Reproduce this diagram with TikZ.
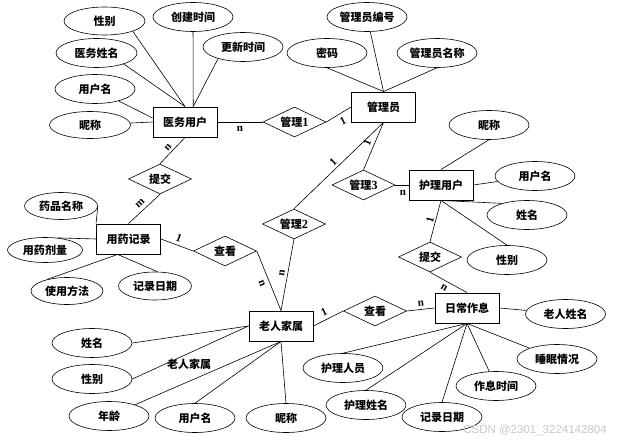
\documentclass[tikz,border=0pt]{standalone}
\usepackage{fontspec}
\setmainfont{Liberation Serif}
\newfontfamily\cjk{Noto Sans CJK SC}
\newfontfamily\wmfont{Liberation Sans}
\usetikzlibrary{shapes.geometric}

\newcommand{\relnum}[1]{{\rmfamily\fontsize{12.5}{13}\selectfont #1}}

\tikzset{
  zhfont/.style={font=\cjk\bfseries\fontsize{11}{13}\selectfont},
  entity/.style={draw, zhfont, line width=0.9pt, minimum width=64pt, minimum height=30pt, inner sep=0pt},
  relation/.style={draw, zhfont, diamond, aspect=2.1, line width=0.6pt, minimum width=63pt, minimum height=30pt, inner sep=0pt},
  attr/.style={draw, zhfont, ellipse, line width=0.6pt, minimum width=80pt, minimum height=29pt, inner sep=0pt},
  card/.style={font=\bfseries\fontsize{11}{13}\selectfont, inner sep=0.75pt},
  link/.style={line width=0.6pt}
}

\begin{document}
\begin{tikzpicture}[x=1pt,y=1pt,yscale=-1,xscale=1]
\useasboundingbox (0,0) rectangle (618,441);

% Entities
\node [entity] (yw) at (185,122) {医务用户};
\node [entity] (gly) at (383.5,107) {管理员};
\node [entity] (hl) at (441,185) {护理用户};
\node [entity] (yy) at (128.5,239) {用药记录};
\node [entity] (lr) at (281,326) {老人家属};
\node [entity] (rc) at (467,308) {日常作息};

% Relations
\node [relation] (gl1) at (294.5,122) {管理\relnum{1}};
\node [relation] (gl2) at (294,224) {管理\relnum{2}};
\node [relation] (gl3) at (363.5,185) {管理\relnum{3}};
\node [relation] (tj1) at (160,179) {提交};
\node [relation] (ck1) at (225,251) {查看};
\node [relation] (tj2) at (430,257) {提交};
\node [relation] (ck2) at (375,311) {查看};

% Attributes of 医务用户
\node [attr, minimum width=81pt, minimum height=28pt] (ywxb) at (104.5,21) {性别};
\node [attr] (ywcj) at (193,17) {创建时间};
\node [attr, minimum width=81pt] (ywxm) at (96.5,53) {医务姓名};
\node [attr] (ywgx) at (243,47) {更新时间};
\node [attr] (ywyhm) at (95,89) {用户名};
\node [attr, minimum width=81pt, minimum height=27pt] (ywnc) at (90,125) {昵称};

% Attributes of 管理员
\node [attr] (glybh) at (367,17) {管理员编号};
\node [attr] (glymm) at (327,53) {密码};
\node [attr] (glymc) at (437,53) {管理员名称};

% Attributes of 护理用户
\node [attr] (hlnc) at (489,125) {昵称};
\node [attr] (hlyhm) at (535,176) {用户名};
\node [attr] (hlxm) at (527,215) {姓名};
\node [attr] (hlxb) at (507,260) {性别};

% Attributes of 用药记录
\node [attr, minimum width=73pt, minimum height=27pt] (yymc) at (61,206) {药品名称};
\node [attr, minimum width=75pt, minimum height=25pt] (yyjl) at (45,250) {用药剂量};
\node [attr, minimum width=72pt, minimum height=27pt] (yyff) at (67,291) {使用方法};
\node [attr, minimum width=73pt, minimum height=28pt] (yyrq) at (155,286) {记录日期};

% Attributes of 老人家属
\node [attr] (lrxm) at (92,343) {姓名};
\node [attr] (lrxb) at (92,379) {性别};
\node [attr] (lrnl) at (109,416) {年龄};
\node [attr] (lryhm) at (195,418) {用户名};
\node [attr] (lrnc) at (286,418) {昵称};
\node [zhfont, inner sep=0.75pt] (lrlabel) at (189,364) {老人家属};

% Attributes of 日常作息
\node [attr] (rcxm) at (565.5,314) {老人姓名};
\node [attr] (rcsm) at (557,359) {睡眠情况};
\node [attr] (rcry) at (343,368) {护理人员};
\node [attr] (rcsj) at (496,386) {作息时间};
\node [attr] (rchl) at (366,405) {护理姓名};
\node [attr] (rcrq) at (442,417) {记录日期};

% Relation lines
\draw [link] (yw.east) -- (gl1.west) node [card] (c1) at (240,129) {n};
\draw [link] (gl1.east) -- (gly.west) node [card, rotate=27] (c2) at (343,121) {1};
\draw [link] (gly.south) -- (gl2.north) node [card, rotate=44] (c3) at (333,162) {1};
\draw [link] (gly.south) -- (gl3.north) node [card, rotate=67] (c4) at (367,143) {1};
\draw [link] (gl3.east) -- (hl.west) node [card] (c5) at (403,193) {n};
\draw [link] (hl.south) -- (tj2.north) node [card, rotate=75] (c6) at (430,220) {1};
\draw [link] (tj2.south) -- (rc.north) node [card, rotate=-30] (c7) at (444,288) {n};
\draw [link] (yw.south) -- (tj1.north) node [card, rotate=47] (c8) at (168,147) {n};
\draw [link] (tj1.south) -- (yy.north) node [card, rotate=44] (c9) at (140,203) {m};
\draw [link] (yy.east) -- (ck1.west) node [card, rotate=-20] (c10) at (179,238) {1};
\draw [link] (ck1.east) -- (lr.north) node [card, rotate=-69] (c11) at (262,283) {n};
\draw [link] (gl2.south) -- (lr.north) node [card, rotate=81] (c12) at (282,273) {n};
\draw [link] (lr.east) -- (ck2.west) node [card, rotate=25] (c13) at (324,312) {1};
\draw [link] (ck2.east) -- (rc.west) node [card, rotate=6] (c14) at (421,304) {n};

% Attribute lines
\draw [link] (ywxb.-20) -- (yw.north);
\draw [link] (ywxm.-22) -- (yw.north);
\draw [link] (ywcj) -- (yw.62);
\draw [link] (ywgx.205) -- (yw.62);
\draw [link] (ywyhm) -- (yw.173);
\draw [link] (ywnc) -- (yw.west);
\draw [link] (glybh) -- (gly.north);
\draw [link] (glymm.south) -- (gly.north);
\draw [link] (glymc.south) -- (gly.north);
\draw [link] (hlnc.south) -- (hl.north);
\draw [link] (hlyhm) -- (hl.east);
\draw [link] (hlxm.155) -- (hl.south);
\draw [link] (hlxb.north) -- (hl.south);
\draw [link] (yymc.east) -- (yy.north west);
\draw [link] (yyjl.45) -- (yy.west);
\draw [link] (yyff.150) -- (yy.235);
\draw [link] (yyrq.80) -- (yy.235);
\draw [link] (lrxm.east) -- (lr.west);
\draw [link] (lrxb.east) -- (lr.west);
\draw [link] (lrnl) -- (lr.south);
\draw [link] (lryhm.north) -- (lr.south);
\draw [link] (lrnc.north) -- (lr.south);
\draw [link] (rcxm) -- (rc.east);
\draw [link] (rcsm) -- (rc.south);
\draw [link] (rcry.north) -- (rc.south);
\draw [link] (rcsj) -- (rc.south);
\draw [link] (rchl.north) -- (rc.south);
\draw [link] (rcrq.north) -- (rc.south);

% Text Node
\node [font=\wmfont\fontsize{11.5}{13}\selectfont, text=black!22, inner sep=0.75pt] (wm) at (535,430) {CSDN @2301\_3224142804};

\end{tikzpicture}
\end{document}
